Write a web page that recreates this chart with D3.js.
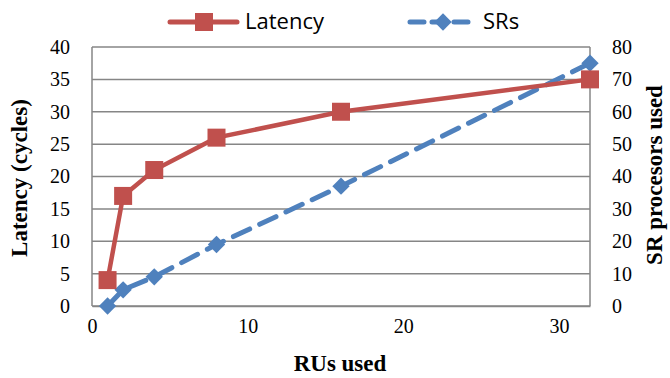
<!DOCTYPE html>
<html>
<head>
<meta charset="utf-8">
<script src="https://cdn.jsdelivr.net/npm/d3@7"></script>
<style>
  body { margin: 0; background: #fff; }
  svg { display: block; }
  .tick text { font-family: "Liberation Serif", "Times New Roman", serif; font-size: 20px; fill: #000; }
</style>
</head>
<body>
<div id="chart"></div>
<script>
var rus = [1, 2, 4, 8, 16, 32];
var latency = [4, 17, 21, 26, 30, 35];
var srs = [0, 5, 9, 19, 37, 75];
var xTicks = [0, 10, 20, 30];
var leftTicks = [0, 5, 10, 15, 20, 25, 30, 35, 40];
var rightTicks = [0, 10, 20, 30, 40, 50, 60, 70, 80];

var width = 670, height = 378;
var margin = { top: 47, right: 80, bottom: 72, left: 92 };

var svg = d3.select("#chart").append("svg")
  .attr("width", width).attr("height", height);

var x = d3.scaleLinear().domain([0, 32]).range([margin.left, width - margin.right]);
var yL = d3.scaleLinear().domain([0, 40]).range([height - margin.bottom, margin.top]);
var yR = d3.scaleLinear().domain([0, 80]).range([height - margin.bottom, margin.top]);

var red = "#C0504D", blue = "#4F81BD", grid = "#868686";

// gridlines
svg.append("g").selectAll("line").data(leftTicks).enter().append("line")
  .attr("x1", x(0)).attr("x2", x(32))
  .attr("y1", function (d) { return yL(d); }).attr("y2", function (d) { return yL(d); })
  .style("stroke", grid).style("stroke-width", 1.5);

// vertical borders
svg.append("line").attr("x1", x(0)).attr("x2", x(0)).attr("y1", yL(0)).attr("y2", yL(40))
  .style("stroke", grid).style("stroke-width", 1.5);
svg.append("line").attr("x1", x(32)).attr("x2", x(32)).attr("y1", yL(0)).attr("y2", yL(40))
  .style("stroke", grid).style("stroke-width", 1.5);

// axes
var xAxis = svg.append("g").attr("transform", "translate(0," + yL(0) + ")")
  .call(d3.axisBottom(x).tickValues(xTicks).tickSize(0).tickPadding(13));
xAxis.select(".domain").style("stroke", grid).style("stroke-width", 1.5);

var lAxis = svg.append("g").attr("transform", "translate(" + x(0) + ",0)")
  .call(d3.axisLeft(yL).tickValues(leftTicks).tickSize(0).tickPadding(22));
lAxis.select(".domain").remove();

var rAxis = svg.append("g").attr("transform", "translate(" + x(32) + ",0)")
  .call(d3.axisRight(yR).tickValues(rightTicks).tickSize(0).tickPadding(22));
rAxis.select(".domain").remove();

// series
var latLine = d3.line().x(function (d, i) { return x(rus[i]); }).y(function (d) { return yL(d); });
var srLine = d3.line().x(function (d, i) { return x(rus[i]); }).y(function (d) { return yR(d); });

svg.append("path").datum(srs).attr("d", srLine)
  .style("fill", "none").style("stroke", blue).style("stroke-width", 5)
  .style("stroke-dasharray", "18,11").style("stroke-linecap", "round");

svg.append("path").datum(latency).attr("d", latLine)
  .style("fill", "none").style("stroke", red).style("stroke-width", 4.5);

var diamond = d3.symbol().type(d3.symbolSquare).size(150);
svg.append("g").selectAll("path").data(srs).enter().append("path")
  .attr("d", diamond)
  .attr("transform", function (d, i) { return "translate(" + x(rus[i]) + "," + yR(d) + ") rotate(45)"; })
  .style("fill", blue);

svg.append("g").selectAll("rect").data(latency).enter().append("rect")
  .attr("x", function (d, i) { return x(rus[i]) - 9; })
  .attr("y", function (d) { return yL(d) - 9; })
  .attr("width", 18).attr("height", 18)
  .style("fill", red);

// legend
var lg = svg.append("g");
lg.append("line").attr("x1", 170).attr("x2", 237).attr("y1", 22).attr("y2", 22)
  .style("stroke", red).style("stroke-width", 5).style("stroke-linecap", "round");
lg.append("rect").attr("x", 195).attr("y", 13).attr("width", 18).attr("height", 18).style("fill", red);
lg.append("text").attr("x", 245).attr("y", 29).text("Latency")
  .style("font-family", "'Open Sans', sans-serif").style("font-size", "22px");

lg.append("line").attr("x1", 410).attr("x2", 469).attr("y1", 22).attr("y2", 22)
  .style("stroke", blue).style("stroke-width", 5).style("stroke-dasharray", "14,8").style("stroke-linecap", "round");
lg.append("path").attr("d", diamond).attr("transform", "translate(443,22) rotate(45)").style("fill", blue);
lg.append("text").attr("x", 483).attr("y", 29).text("SRs")
  .style("font-family", "'Open Sans', sans-serif").style("font-size", "22px");

// axis titles
var titleFont = "'Liberation Serif', 'Times New Roman', serif";
svg.append("text").attr("x", 340).attr("y", 371).attr("text-anchor", "middle")
  .text("RUs used").style("font-family", titleFont).style("font-size", "23px").style("font-weight", "bold");
svg.append("text").attr("transform", "translate(27,178) rotate(-90)").attr("text-anchor", "middle")
  .text("Latency (cycles)").style("font-family", titleFont).style("font-size", "23px").style("font-weight", "bold");
svg.append("text").attr("transform", "translate(662,175) rotate(-90)").attr("text-anchor", "middle")
  .text("SR procesors used").style("font-family", titleFont).style("font-size", "23px").style("font-weight", "bold");
</script>
</body>
</html>
